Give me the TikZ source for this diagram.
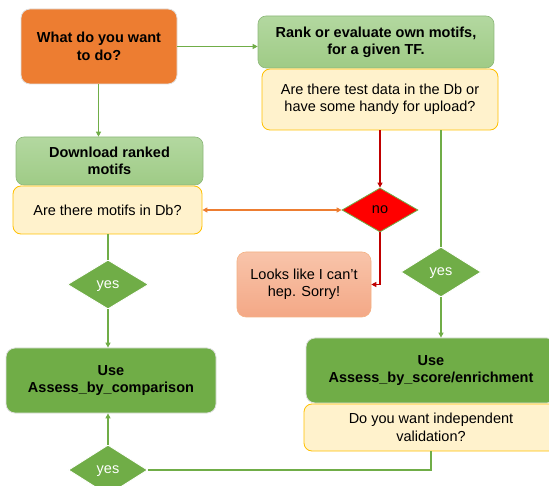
\documentclass[tikz,border=0pt]{standalone}
\usepackage{fontspec}
\setmainfont{Liberation Sans}
\usetikzlibrary{shapes.geometric,arrows.meta,calc}
\definecolor{cOrange}{HTML}{ED7D31}
\definecolor{cGreen}{HTML}{70AD47}
\definecolor{cLGreenT}{HTML}{B3D8A0}
\definecolor{cLGreenB}{HTML}{9FCB86}
\definecolor{cLGreenBd}{HTML}{8DB77A}
\definecolor{cYellow}{HTML}{FFF2CC}
\definecolor{cGold}{HTML}{FFC000}
\definecolor{cSalT}{HTML}{F8C4AA}
\definecolor{cSalB}{HTML}{F4A886}
\definecolor{cSalBd}{HTML}{F4B183}
\definecolor{cRedLine}{HTML}{C00000}
\tikzset{
  txt/.style={font=\fontsize{14.5}{17.4}\selectfont, align=center, inner sep=0pt},
  btxt/.style={txt, font=\fontsize{14.5}{17.4}\selectfont\bfseries},
  orangebox/.style={btxt, rectangle, rounded corners=9pt, fill=cOrange, draw=black!12, line width=0.8pt},
  lgreenbox/.style={btxt, rectangle, rounded corners=8pt, top color=cLGreenT, bottom color=cLGreenB, draw=cLGreenBd, line width=0.6pt},
  yellowbox/.style={txt, rectangle, rounded corners=8pt, fill=cYellow, draw=cGold, line width=0.8pt},
  dgreenbox/.style={btxt, rectangle, rounded corners=9pt, fill=cGreen, draw=black!12, line width=0.8pt},
  salbox/.style={txt, rectangle, rounded corners=9pt, top color=cSalT, bottom color=cSalB, draw=cSalBd, line width=0.6pt},
  yesdia/.style={txt, diamond, aspect=1.6, fill=cGreen, draw=white, line width=0.8pt, text=white, text depth=0pt},
  nodia/.style={txt, diamond, aspect=1.7, fill=red, draw=cGreen, line width=0.8pt, text depth=0pt},
  gline/.style={draw=cGreen, line width=1.1pt},
  garrow/.style={gline, -{Triangle[length=5pt,width=5pt]}},
  rarrow/.style={draw=cRedLine, line width=1.1pt, -{Triangle[length=5pt,width=5pt]}},
  oarrow/.style={draw=cOrange, line width=1.1pt, {Triangle[length=5pt,width=5pt]}-{Triangle[length=5pt,width=5pt]}},
}
\begin{document}
\begin{tikzpicture}[x=1pt,y=-1pt]
\path[use as bounding box] (0,0) rectangle (549,486);
\begin{scope}
\clip (0,0) rectangle (549,486);
\node[orangebox, minimum width=156pt, minimum height=75pt] (ask) at (99,46.5) {What do you want\\to do?};
\node[lgreenbox, minimum width=236pt, minimum height=52pt] (rank) at (376,42) {Rank or evaluate own motifs,\\for a given TF.};
\node[yellowbox, minimum width=236pt, minimum height=61pt] (testq) at (380,99.5) {Are there test data in the Db or\\have some handy for upload?};
\node[lgreenbox, minimum width=187pt, minimum height=48pt] (dl) at (109.5,161) {Download ranked\\motifs};
\node[yellowbox, minimum width=189pt, minimum height=48pt] (motq) at (107.5,210) {Are there motifs in Db?};
\node[nodia, minimum width=76pt, minimum height=44pt] (no) at (380,210) {no};
\node[salbox, minimum width=134pt, minimum height=65pt] (sorry) at (304,284.5) {Looks like I can’t\\hep. Sorry!};
\node[yesdia, minimum width=81pt, minimum height=49pt] (yes1) at (108,284.5) {yes};
\node[yesdia, minimum width=80pt, minimum height=50pt] (yes2) at (441,272) {yes};
\node[dgreenbox, minimum width=210pt, minimum height=65pt] (cmp) at (111,380.5) {Use\\Assess\_by\_comparison};
\node[dgreenbox, minimum width=250pt, minimum height=65pt] (score) at (431,370.5) {Use\\Assess\_by\_score/enrichment};
\node[yellowbox, minimum width=254pt, minimum height=47pt] (valq) at (431,427.5) {Do you want independent\\validation?};
\node[yesdia, minimum width=79pt, minimum height=50pt] (yes3) at (108,470) {yes};

\draw[garrow] (ask.east) -- (ask.east -| rank.west);
\draw[garrow] ([xshift=-0.5pt]ask.south) -- ([xshift=-0.5pt]ask.south |- dl.north);
\draw[rarrow] (testq.south) -- (no.north);
\draw[rarrow] (no.south) |- (sorry.east);
\draw[oarrow] (motq.east) -- (no.west);
\draw[gline] (yes2.north |- testq.south) -- (yes2.north);
\draw[garrow] (yes2.south) -- (yes2.south |- score.north);
\draw[gline] (yes1.north |- motq.south) -- (yes1.north);
\draw[garrow] (yes1.south) -- (yes1.south |- cmp.north);
\draw[gline] (valq.south) |- (yes3.east);
\draw[garrow] (yes3.north) -- (yes3.north |- cmp.south);
\end{scope}
\end{tikzpicture}
\end{document}
